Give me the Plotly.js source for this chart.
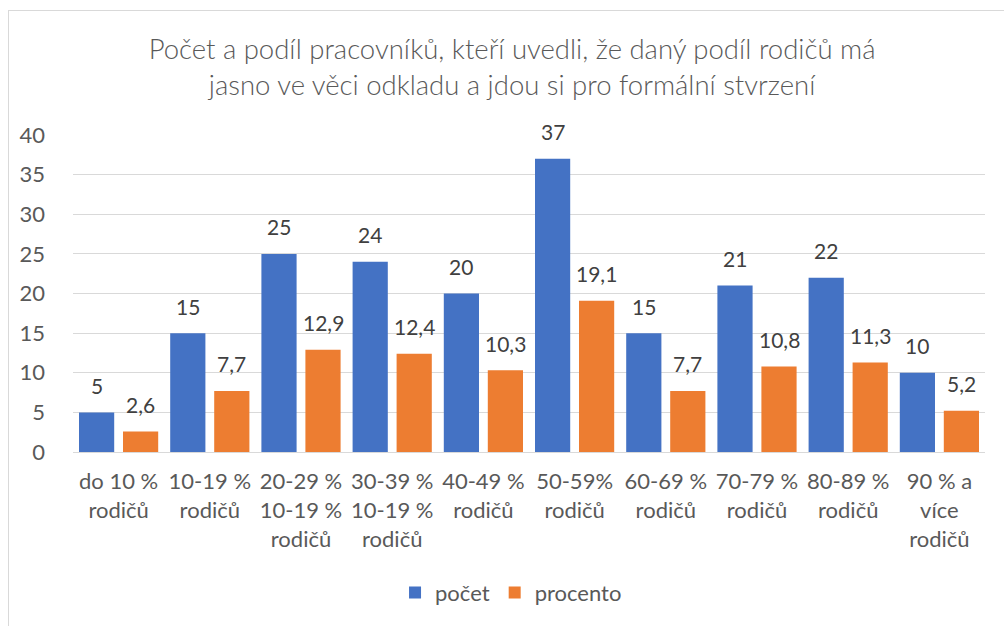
<!DOCTYPE html>
<html>
<head>
<meta charset="utf-8">
<script src="https://cdn.plot.ly/plotly-3.0.1.min.js"></script>
<style>
  html, body { margin: 0; padding: 0; background: #fff; }
  #frame { position: absolute; left: 8px; top: 10px; width: 1100px; height: 700px;
           border-left: 1px solid #D9D9D9; border-top: 1px solid #D9D9D9; }
  #chart { position: absolute; left: 0; top: 0; width: 1004px; height: 626px; }
</style>
</head>
<body>
<div id="frame"></div>
<div id="chart"></div>
<script>
const categories = [
  "do 10 %<br>rodičů",
  "10-19 %<br>rodičů",
  "20-29 %<br>10-19 %<br>rodičů",
  "30-39 %<br>10-19 %<br>rodičů",
  "40-49 %<br>rodičů",
  "50-59%<br>rodičů",
  "60-69 %<br>rodičů",
  "70-79 %<br>rodičů",
  "80-89 %<br>rodičů",
  "90 % a<br>více<br>rodičů"
];
const pocet = [5, 15, 25, 24, 20, 37, 15, 21, 22, 10];
const procento = [2.6, 7.7, 12.9, 12.4, 10.3, 19.1, 7.7, 10.8, 11.3, 5.2];
const seriesNames = ["počet", "procento"];
const yTicks = [0, 5, 10, 15, 20, 25, 30, 35, 40];

const FONT = "Lato, 'Open Sans', sans-serif";
const fmt = v => String(v).replace('.', ',');

const traces = [
  { type: 'bar', name: seriesNames[0], x: categories, y: pocet,
    marker: { color: '#4472C4' }, hoverinfo: 'y' },
  { type: 'bar', name: seriesNames[1], x: categories, y: procento,
    marker: { color: '#ED7D31' }, hoverinfo: 'y' }
];

const annotations = [];
[[pocet, -22], [procento, 22]].forEach(([vals, shift]) => {
  vals.forEach((v, i) => {
    annotations.push({
      x: categories[i], y: v, xref: 'x', yref: 'y',
      text: fmt(v), showarrow: false, xshift: shift, yshift: 27,
      yanchor: 'middle', font: { family: FONT, size: 21, color: '#404040' }
    });
  });
});

const layout = {
  width: 1004, height: 626,
  paper_bgcolor: 'rgba(0,0,0,0)', plot_bgcolor: 'rgba(0,0,0,0)',
  margin: { l: 73, r: 19, t: 135, b: 174 },
  title: {
    text: 'Počet a podíl pracovníků, kteří uvedli, že daný podíl rodičů má<br>jasno ve věci odkladu a jdou si pro formální stvrzení',
    font: { family: FONT, size: 27.5, color: '#595959', weight: 300 },
    x: 0.51, xanchor: 'center', y: 0.906, yanchor: 'middle', yref: 'container'
  },
  barmode: 'group', bargap: 0.035, bargroupgap: 0.2,
  xaxis: {
    type: 'category', tickfont: { family: FONT, size: 22, color: '#595959' },
    showline: true, linecolor: '#D9D9D9', linewidth: 1, ticks: '',
    ticklabelstandoff: 10, tickangle: 0
  },
  yaxis: {
    range: [0, 40], tickvals: yTicks, ticktext: yTicks.map(String),
    tickfont: { family: FONT, size: 22, color: '#595959' },
    showgrid: true, gridcolor: '#D9D9D9', gridwidth: 1,
    zeroline: false, showline: false, ticks: '', ticklabelstandoff: 27
  },
  showlegend: true,
  legend: {
    orientation: 'h', xref: 'container', yref: 'container',
    x: 0.509, xanchor: 'center', y: 0.053, yanchor: 'middle',
    font: { family: FONT, size: 22, color: '#595959' },
    itemwidth: 30, traceorder: 'normal'
  },
  annotations: annotations
};

Plotly.newPlot('chart', traces, layout, { displayModeBar: false, staticPlot: true });
</script>
</body>
</html>
